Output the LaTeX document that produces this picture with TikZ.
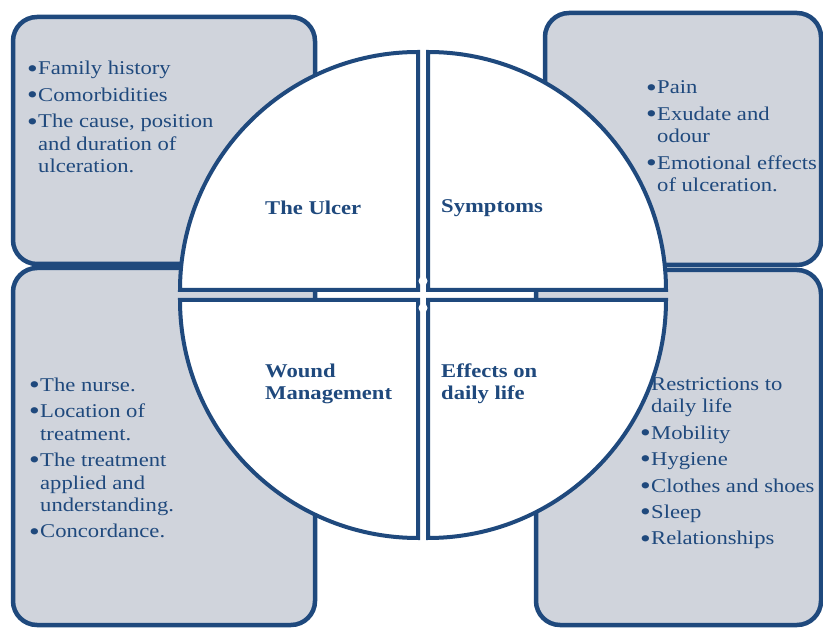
\documentclass[tikz,border=0pt]{standalone}
\usepackage{fontspec}
\setmainfont{Liberation Serif}[FakeStretch=1.16]
\definecolor{dblue}{RGB}{31,73,125}
\definecolor{boxgray}{RGB}{208,212,220}
\newcommand{\bl}{\makebox[11pt][l]{\raisebox{-2.2pt}{\scalebox{1.35}{\textbullet}}}}
\newcommand{\ind}{\hspace*{11pt}}
\begin{document}
\begin{tikzpicture}[x=1pt,y=-1pt,
  sidebox/.style={draw=dblue,fill=boxgray,line width=4.5pt,rounded corners=24pt},
  quarter/.style={draw=dblue,fill=white,line width=4pt,line join=miter},
  listtext/.style={anchor=base west,inner sep=0pt,align=left,text=dblue,
    font=\fontsize{19.5}{22.5}\selectfont},
  title/.style={anchor=west,inner sep=0pt,align=left,text=dblue,
    font=\bfseries\fontsize{19.5}{22}\selectfont}]
\useasboundingbox (0,0) rectangle (823,628);
% side boxes
\draw[sidebox] (13,17) rectangle (315,264);
\draw[sidebox] (13,268) rectangle (315,625);
\draw[sidebox] (545,13) rectangle (821,265);
\draw[sidebox] (536,270) rectangle (821,625);
% circle quarters
\draw[quarter] (418,290) -- (180,290) arc[start angle=180,end angle=270,radius=238] -- cycle;
\draw[quarter] (428,290) -- (428,52) arc[start angle=270,end angle=360,radius=238] -- cycle;
\draw[quarter] (418,300) -- (180,300) arc[start angle=180,end angle=90,radius=238] -- cycle;
\draw[quarter] (428,300) -- (666,300) arc[start angle=0,end angle=90,radius=238] -- cycle;
\fill[white] (423,281) circle[radius=4.5];
\fill[white] (423,308) circle[radius=4.5];
% titles
\node[title] (ulcer) at (265,208) {The Ulcer};
\node[title] (sympt) at (441,208) {Symptoms};
\node[title] (wound) at (265,384) {Wound\\Management};
\node[title] (effects) at (441,384) {Effects on\\daily life};
% lists (anchored at baseline of last line)
\node[listtext] (tl) at (27,173) {\bl Family history\\[4pt]
  \bl Comorbidities\\[4pt]
  \bl The cause, position\\
  \ind and duration of\\
  \ind ulceration.};
\node[listtext] (tr) at (646,192) {\bl Pain\\[4pt]
  \bl Exudate and\\
  \ind odour\\[4pt]
  \bl Emotional effects\\
  \ind of ulceration.};
\node[listtext] (bl) at (29,538) {\bl The nurse.\\[4pt]
  \bl Location of\\
  \ind treatment.\\[4pt]
  \bl The treatment\\
  \ind applied and\\
  \ind understanding.\\[4pt]
  \bl Concordance.};
\node[listtext] (br) at (640,545) {\ind Restrictions to\\
  \ind daily life\\[4pt]
  \bl Mobility\\[4pt]
  \bl Hygiene\\[4pt]
  \bl Clothes and shoes\\[4pt]
  \bl Sleep\\[4pt]
  \bl Relationships};
\end{tikzpicture}
\end{document}
